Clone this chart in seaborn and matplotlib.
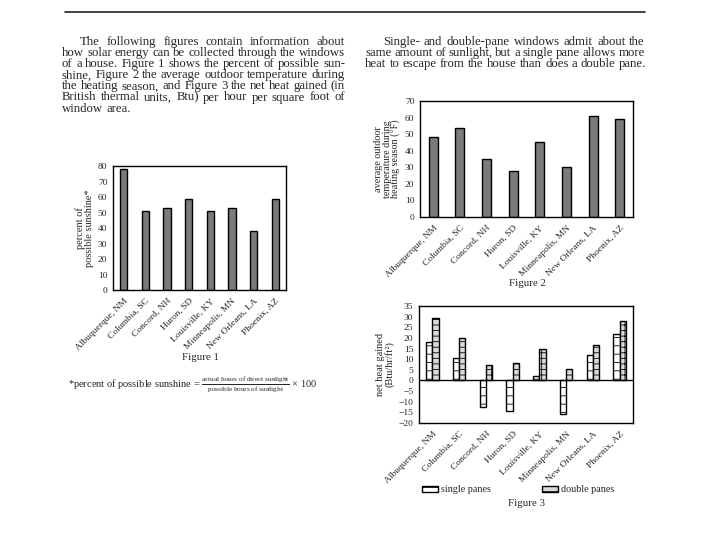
import matplotlib
matplotlib.use("Agg")
import matplotlib.pyplot as plt
import seaborn as sns
import pandas as pd
from matplotlib.patches import Patch

cities = ["Albuquerque, NM", "Columbia, SC", "Concord, NH", "Huron, SD",
          "Louisville, KY", "Minneapolis, MN", "New Orleans, LA", "Phoenix, AZ"]
sunshine = [78, 51, 53, 58.5, 51, 53, 38, 58.5]
temperature = [48, 54, 35, 28, 45, 30, 61, 59]
heat_single = [18, 10.5, -12.5, -14.5, 2, -16, 12, 22]
heat_double = [29.5, 20, 7.5, 8, 15, 5.5, 16.5, 28]
pane_labels = ["single panes", "double panes"]

para1 = ["The following figures contain information about",
         "how solar energy can be collected through the windows",
         "of a house. Figure 1 shows the percent of possible sun-",
         "shine, Figure 2 the average outdoor temperature during",
         "the heating season, and Figure 3 the net heat gained (in",
         "British thermal units, Btu) per hour per square foot of",
         "window area."]
para2 = ["Single- and double-pane windows admit about the",
         "same amount of sunlight, but a single pane allows more",
         "heat to escape from the house than does a double pane."]

sns.set_theme(style="white")
plt.rcParams["font.family"] = ["Liberation Serif", "DejaVu Serif"]
plt.rcParams["mathtext.fontset"] = "custom"
plt.rcParams["mathtext.rm"] = "Liberation Serif"
plt.rcParams["mathtext.it"] = "Liberation Serif:italic"
plt.rcParams["mathtext.bf"] = "Liberation Serif:bold"
plt.rcParams["hatch.linewidth"] = 0.6

TXT = "#262626"
BAR = "#7b7b7b"

fig = plt.figure(figsize=(7.2, 5.4), dpi=100)
W, H = 720, 540
renderer = fig.canvas.get_renderer()

def axes_px(l, t, r, b):
    return fig.add_axes([l / W, 1 - b / H, (r - l) / W, (b - t) / H])

def style_axes(ax):
    for s in ax.spines.values():
        s.set_visible(True)
        s.set_color("black")
        s.set_linewidth(1.0)
    ax.tick_params(axis="y", direction="out", length=3, width=0.8, labelsize=6.8,
                   colors="black", labelcolor=TXT, pad=1)
    ax.tick_params(axis="x", direction="out", length=4, width=1.8, labelsize=6.8,
                   colors="black", labelcolor=TXT, pad=1)
    ax.set_xlabel("")
    plt.setp(ax.get_xticklabels(), rotation=45, ha="right", rotation_mode="anchor")

def text_width(s, size):
    t = fig.text(0, 0, s, fontsize=size)
    w = t.get_window_extent(renderer).width
    t.remove()
    return w

def justified(lines, left, right, top, step, size, indent=18):
    space = text_width("a a", size) - text_width("aa", size)
    for i, line in enumerate(lines):
        y = 1 - (top + i * step) / H
        x0 = left + (indent if i == 0 else 0)
        words = line.split()
        last = i == len(lines) - 1
        objs = [fig.text(0, y, w, fontsize=size, color=TXT, va="center", ha="left") for w in words]
        widths = [o.get_window_extent(renderer).width for o in objs]
        if last or len(words) == 1:
            gap = space
        else:
            gap = (right - x0 - sum(widths)) / (len(words) - 1)
        x = x0
        for o, w in zip(objs, widths):
            o.set_x(x / W)
            x += w + gap

# top rule
fig.add_artist(plt.Line2D([65 / W, 645 / W], [1 - 12 / H, 1 - 12 / H], color="#222222", lw=1.2))

justified(para1, 62, 345, 42, 11.1, 9.2)
justified(para2, 365, 645, 42, 11.1, 9.2)

# Figure 1
ax1 = axes_px(113, 166, 286, 290)
df1 = pd.DataFrame({"city": cities, "value": sunshine})
sns.barplot(data=df1, x="city", y="value", color=BAR, width=0.34, edgecolor="black",
            linewidth=1.0, saturation=1, ax=ax1)
ax1.set_ylim(0, 80)
ax1.set_yticks(range(0, 81, 10))
ax1.set_ylabel("percent of\npossible sunshine*", fontsize=7.5, color=TXT, labelpad=3, linespacing=0.95)
style_axes(ax1)
fig.text(200 / W, 1 - 357 / H, "Figure 1", fontsize=7.8, color=TXT, ha="center", va="center")
fig.text(68 / W, 1 - 385 / H,
         r"*percent of possible sunshine = $\frac{\mathrm{actual\ hours\ of\ direct\ sunlight}}{\mathrm{possible\ hours\ of\ sunlight}}$ × 100",
         fontsize=7.5, color=TXT, ha="left", va="center")

# Figure 2
ax2 = axes_px(420, 101, 633, 217)
df2 = pd.DataFrame({"city": cities, "value": temperature})
sns.barplot(data=df2, x="city", y="value", color=BAR, width=0.34, edgecolor="black",
            linewidth=1.0, saturation=1, ax=ax2)
ax2.set_ylim(0, 70)
ax2.set_yticks(range(0, 71, 10))
ax2.set_ylabel("average outdoor\ntemperature during\nheating season (°F)", fontsize=7.3, color=TXT,
               labelpad=3, linespacing=0.9)
style_axes(ax2)
fig.text(527 / W, 1 - 284 / H, "Figure 2", fontsize=7.8, color=TXT, ha="center", va="center")

# Figure 3
ax3 = axes_px(419, 306, 633, 423)
df3 = pd.DataFrame({"city": cities * 2,
                    "value": heat_single + heat_double,
                    "pane": [pane_labels[0]] * len(cities) + [pane_labels[1]] * len(cities)})
sns.barplot(data=df3, x="city", y="value", hue="pane", hue_order=pane_labels,
            palette=["white", "#d9d9d9"], width=0.46, edgecolor="black", linewidth=1.0,
            saturation=1, gap=0, ax=ax3, legend=False)
hatches = {0: "--", 1: "---|"}
n = len(cities)
for i, p in enumerate(ax3.patches[:2 * n]):
    p.set_hatch(hatches[i // n])
ax3.axhline(0, color="black", lw=1.0)
ax3.set_ylim(-20, 35)
ax3.set_yticks(range(-20, 36, 5))
ax3.set_ylabel("net heat gained\n(Btu/hr/ft²)", fontsize=7.5, color=TXT, labelpad=3, linespacing=0.95)
style_axes(ax3)
handles = [Patch(facecolor="white", edgecolor="black", hatch="--", label=pane_labels[0]),
           Patch(facecolor="#d9d9d9", edgecolor="black", hatch="---|", label=pane_labels[1])]
fig.legend(handles=handles, loc="center", bbox_to_anchor=(518 / W, 1 - 490 / H), ncol=2,
           frameon=False, fontsize=7.3, handlelength=1.6, handleheight=0.6, handletextpad=0.3,
           columnspacing=5.0, labelcolor=TXT)
fig.text(527 / W, 1 - 503 / H, "Figure 3", fontsize=7.8, color=TXT, ha="center", va="center")

fig.savefig("out.png", dpi=100, facecolor="white")
